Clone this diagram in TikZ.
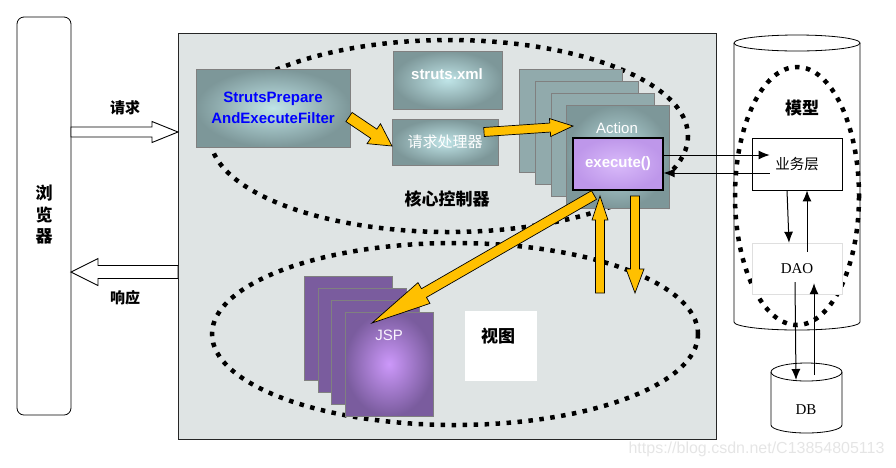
\documentclass[tikz,border=0pt]{standalone}
\usepackage{fontspec}
\setmainfont{Liberation Sans}
\newfontfamily\cjk{Noto Sans CJK SC}
\newfontfamily\timesf{Liberation Serif}
\usetikzlibrary{calc,arrows.meta}

\definecolor{ctlgray}{HTML}{DFE4E4}
\definecolor{tealL}{HTML}{BFE4E7}
\definecolor{tealD}{HTML}{7D9799}
\definecolor{tealB}{HTML}{91AAAC}
\definecolor{purpL}{HTML}{CC98FA}
\definecolor{purpD}{HTML}{7A5C9E}
\definecolor{execL}{HTML}{D9BAFA}
\definecolor{execD}{HTML}{BE97EA}
\definecolor{arrowyellow}{HTML}{FFC000}

% fat arrow: [style]{from}{to}{half shaft}{half head}{head length}
\newcommand{\fatarrow}[6][]{%
	\coordinate (fa-n) at ($(#3)!#6!(#2)$);
	\filldraw[#1] ($(#2)!#4!90:(#3)$) -- ($(fa-n)!#4!90:(#3)$) -- ($(fa-n)!#5!90:(#3)$) -- (#3)
		-- ($(fa-n)!#5!-90:(#3)$) -- ($(fa-n)!#4!-90:(#3)$) -- ($(#2)!#4!-90:(#3)$) -- cycle;
}

\begin{document}
\begin{tikzpicture}[x=1pt,y=-1pt,
	box/.style={draw=gray, line width=0.8pt, shading=radial, inner color=tealL, outer color=tealD},
	card/.style={draw=gray, line width=0.8pt, fill=tealB, minimum width=103pt, minimum height=103pt},
	frontcard/.style={draw=gray, line width=0.8pt, shading=radial, inner color=tealL, outer color=tealD, minimum width=103pt, minimum height=103pt},
	jspcard/.style={draw=gray, line width=0.8pt, fill=purpD, minimum width=88pt, minimum height=104pt},
	dots/.style={line width=4.5pt, dash pattern=on 4.5pt off 6.5pt},
	lbl/.style={font=\cjk\bfseries\fontsize{15}{15}\selectfont},
	biglbl/.style={font=\cjk\bfseries\fontsize{17}{17}\selectfont},
	wtxt/.style={text=white, font=\fontsize{15}{15}\selectfont},
	link/.style={line width=1pt, -{Latex[length=11pt,width=9pt]}},
	yellowarr/.style={fill=arrowyellow, draw=black, line width=0.7pt},
	openarr/.style={fill=white, draw=black, line width=0.9pt}]
	\useasboundingbox (0,0) rectangle (896,467);

	\node[draw, line width=0.8pt, rounded corners=7pt, minimum width=54pt, minimum height=398pt] (browser) at (44,216) {};
	\node[align=center, font=\cjk\bfseries\fontsize{17}{21.5}\selectfont] (browsertxt) at (44,215) {浏\\览\\器};
	\node[draw=black!85, fill=ctlgray, line width=1pt, minimum width=538pt, minimum height=406pt] (ctl) at (447,236) {};

	\draw[dots] (449,136) ellipse [x radius=239, y radius=96];
	\draw[dots] (455,334) ellipse [x radius=243, y radius=91];

	% controller
	\node[box, minimum width=154pt, minimum height=78pt, text=blue, align=center, font=\bfseries\fontsize{15}{21}\selectfont] (filter) at (273,108) {StrutsPrepare\\AndExecuteFilter};
	\node[box, minimum width=109pt, minimum height=58pt] (xml) at (447.5,80) {};
	\node[wtxt, font=\bfseries\fontsize{15}{15}\selectfont] (xmltxt) at (447,74) {struts.xml};
	\node[box, minimum width=106pt, minimum height=46pt, wtxt, font=\cjk\fontsize{15}{15}\selectfont] (handler) at (445,142) {请求处理器};
	\foreach \i in {0,1,2}
		\node[card] (act\i) at (570.5+16*\i,120.5+12*\i) {};
	\node[frontcard] (action) at (618,156.5) {};
	\node[wtxt] (actiontxt) at (617,128) {Action};
	\node[draw, line width=1.2pt, shading=radial, inner color=execL, outer color=execD, minimum width=90pt, minimum height=52pt, text=white, font=\bfseries\fontsize{15}{15}\selectfont] (exec) at (618,164) {execute()};
	\node[biglbl] (coretxt) at (447,199) {核心控制器};

	% view
	\foreach \i in {0,1,2}
		\node[jspcard] (jsp\i) at (348.5+13.5*\i,328+12*\i) {};
	\node[draw=gray, line width=0.8pt, shading=radial, inner color=purpL, outer color=purpD, minimum width=88pt, minimum height=104pt] (jsp) at (389,364) {};
	\node[wtxt, text=white!90!purpL] (jsptxt) at (389,335) {JSP};
	\node[fill=white, minimum width=72pt, minimum height=70pt] (view) at (501,346) {};
	\node[biglbl] (viewtxt) at (498,336) {视图};

	% arrows
	\coordinate (rq1) at (71,132); \coordinate (rq2) at (178,132);
	\coordinate (rs1) at (178,272); \coordinate (rs2) at (71,272);
	\fatarrow[openarr]{rq1}{rq2}{5pt}{10.5pt}{26pt}
	\fatarrow[openarr]{rs1}{rs2}{6.5pt}{13.5pt}{27pt}
	\node[lbl] (reqtxt) at (125,108) {请求};
	\node[lbl] (resptxt) at (125,298) {响应};

	\coordinate (ya1) at (349,117); \coordinate (yb1) at (392,146);
	\coordinate (ya2) at (484,132); \coordinate (yb2) at (573,126);
	\coordinate (ya3) at (594,195); \coordinate (yb3) at (372,323);
	\coordinate (ya4) at (600,293); \coordinate (yb4) at (600,196);
	\coordinate (ya5) at (635,196); \coordinate (yb5) at (635,293);
	\fatarrow[yellowarr]{ya1}{yb1}{5.5pt}{12pt}{22pt}
	\fatarrow[yellowarr]{ya2}{yb2}{4.5pt}{9pt}{23pt}
	\fatarrow[yellowarr]{ya3}{yb3}{5pt}{12pt}{60pt}
	\fatarrow[yellowarr]{ya4}{yb4}{4.5pt}{8pt}{24pt}
	\fatarrow[yellowarr]{ya5}{yb5}{4.5pt}{9pt}{24pt}

	% model
	\draw[line width=0.8pt, fill=white] (734,43) -- (734,322) arc[start angle=180, end angle=0, x radius=63, y radius=8] -- (860,43);
	\draw[line width=0.8pt] (797,43) ellipse [x radius=63, y radius=8];
	\draw[dots] (797,196) ellipse [x radius=62, y radius=129];
	\node[biglbl] (modeltxt) at (802,108) {模型};
	\node[draw, fill=white, line width=0.8pt, minimum width=90pt, minimum height=52pt, font=\cjk\fontsize{14.5}{14.5}\selectfont] (biz) at (797,164) {业务层};
	\node[draw=gray!25, fill=white, minimum width=90pt, minimum height=51pt, font=\timesf\fontsize{15}{15}\selectfont] (dao) at (797,268.5) {DAO};

	\draw[line width=0.8pt, fill=white] (771,372) -- (771,425) arc[start angle=180, end angle=0, x radius=35.5, y radius=8] -- (842,372);
	\draw[line width=0.8pt] (806.5,372) ellipse [x radius=35.5, y radius=9];
	\coordinate (dbtop) at (806,372);
	\node[font=\timesf\fontsize{15}{15}\selectfont] (db) at (806,410) {DB};

	\draw[link] ([yshift=9pt]exec.east) -- ([xshift=18pt,yshift=9pt]biz.west);
	\draw[link] ([xshift=18pt,yshift=-9pt]biz.west) -- ([yshift=-9pt]exec.east);
	\draw[link] ([xshift=-10pt]biz.south) -- ([xshift=-8pt]dao.north);
	\draw[link] ([xshift=10pt,yshift=-9pt]dao.north) -- ([xshift=10pt]biz.south);
	\draw[link] ([xshift=-2pt,yshift=12pt]dao.south) -- ([xshift=-10pt,yshift=-8pt]dbtop);
	\draw[link] ([xshift=8pt,yshift=-3pt]dbtop) -- ([xshift=17pt,yshift=11pt]dao.south);

	\node[text=gray!20, anchor=east, font=\fontsize{16}{16}\selectfont] (wm) at (888,449) {https://blog.csdn.net/C13854805113};
\end{tikzpicture}
\end{document}
